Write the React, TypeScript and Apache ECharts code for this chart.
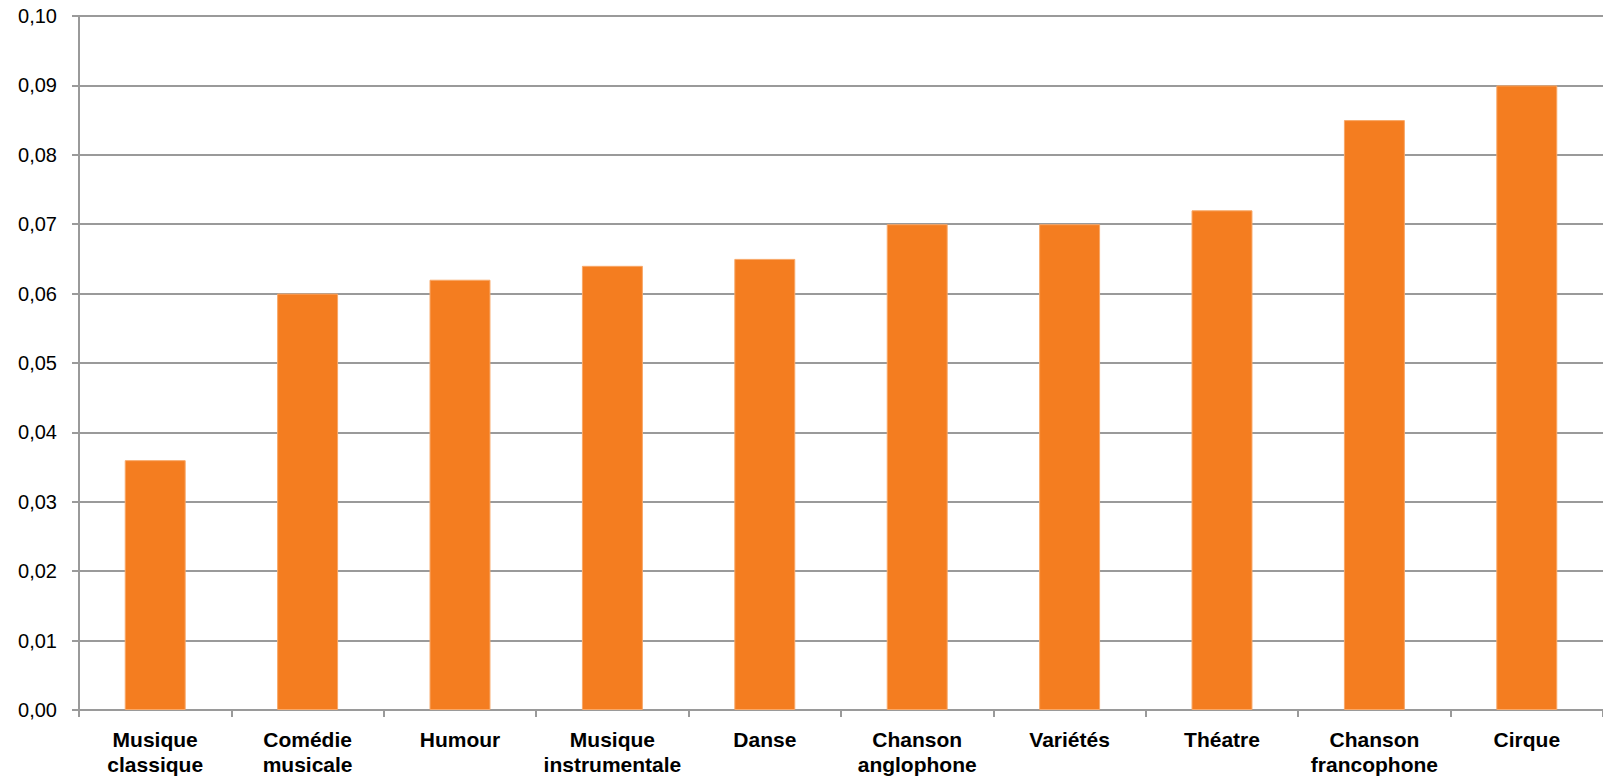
import React, { useEffect, useRef } from "react";
import * as echarts from "echarts";

const categories = [
  "Musique\nclassique",
  "Comédie\nmusicale",
  "Humour",
  "Musique\ninstrumentale",
  "Danse",
  "Chanson\nanglophone",
  "Variétés",
  "Théatre",
  "Chanson\nfrancophone",
  "Cirque",
];
const values = [0.036, 0.06, 0.062, 0.064, 0.065, 0.07, 0.07, 0.072, 0.085, 0.09];

export default function App() {
  const ref = useRef<HTMLDivElement>(null);
  useEffect(() => {
    if (!ref.current) return;
    const chart = echarts.init(ref.current, undefined, { renderer: "svg" });
    chart.setOption({
      animation: false,
      backgroundColor: "#ffffff",
      grid: { left: 79, right: 0, top: 16, bottom: 72, containLabel: false },
      xAxis: {
        type: "category",
        data: categories,
        axisLine: { show: true, lineStyle: { color: "#9a9a9a", width: 2 } },
        axisTick: { show: true, length: 7, lineStyle: { color: "#9a9a9a", width: 2 } },
        axisLabel: {
          interval: 0,
          margin: 17,
          color: "#000000",
          fontFamily: "Liberation Sans, Arial, sans-serif",
          fontWeight: "bold",
          fontSize: 21,
          lineHeight: 25,
        },
      },
      yAxis: {
        type: "value",
        min: 0,
        max: 0.1,
        interval: 0.01,
        axisLine: { show: true, lineStyle: { color: "#9a9a9a", width: 2 } },
        axisTick: { show: true, length: 7, lineStyle: { color: "#9a9a9a", width: 2 } },
        splitLine: { show: true, lineStyle: { color: "#9a9a9a", width: 2 } },
        axisLabel: {
          margin: 22,
          color: "#000000",
          fontFamily: "Liberation Sans, Arial, sans-serif",
          fontSize: 20,
          formatter: (v: number) => v.toFixed(2).replace(".", ","),
        },
      },
      series: [
        {
          type: "bar",
          data: values,
          barWidth: "40%",
          itemStyle: { color: "#f47d20", borderColor: "#f8a868", borderWidth: 1 },
        },
      ],
    });
    return () => chart.dispose();
  }, []);
  return (
    <div
      ref={ref}
      style={{ position: "fixed", left: 0, top: 0, width: 1603, height: 782 }}
    />
  );
}
